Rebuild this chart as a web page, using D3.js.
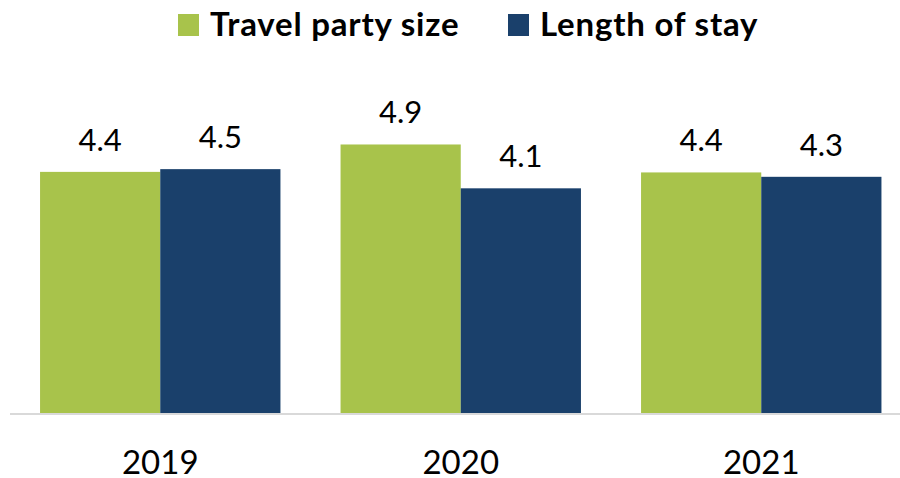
<!DOCTYPE html>
<html>
<head>
<meta charset="utf-8">
<script src="https://cdn.jsdelivr.net/npm/d3@7"></script>
<style>
  body { margin: 0; background: #fff; }
  svg { display: block; font-family: Lato, "Open Sans", sans-serif; }
</style>
</head>
<body>
<div id="chart"></div>
<script>
var years = ["2019", "2020", "2021"];
var series = ["Travel party size", "Length of stay"];
var partySize = [4.40, 4.90, 4.39];
var stayLength = [4.45, 4.10, 4.31];
var partyLabels = ["4.4", "4.9", "4.4"];
var stayLabels = ["4.5", "4.1", "4.3"];
var colors = ["#a8c34b", "#1a406b"];

var width = 900, height = 478;

var svg = d3.select("#chart").append("svg")
	.attr("width", width)
	.attr("height", height);

var x0 = d3.scaleBand()
	.domain(years)
	.range([10, 911.5])
	.paddingInner(0.2)
	.paddingOuter(0.1);

var x1 = d3.scaleBand()
	.domain(series)
	.range([0, x0.bandwidth()]);

var y = d3.scaleLinear()
	.domain([0, 5])
	.range([413, 139]);

var rows = [];
years.forEach(function(yr, i) {
	rows.push({ year: yr, key: series[0], value: partySize[i], label: partyLabels[i], color: colors[0] });
	rows.push({ year: yr, key: series[1], value: stayLength[i], label: stayLabels[i], color: colors[1] });
});

// bars
svg.append("g").selectAll("rect")
	.data(rows)
	.enter().append("rect")
	.attr("x", function(d) { return x0(d.year) + x1(d.key); })
	.attr("y", function(d) { return y(d.value); })
	.attr("width", x1.bandwidth())
	.attr("height", function(d) { return y(0) - y(d.value); })
	.attr("fill", function(d) { return d.color; });

// value labels
svg.append("g").selectAll("text")
	.data(rows)
	.enter().append("text")
	.attr("x", function(d) { return x0(d.year) + x1(d.key) + x1.bandwidth() / 2; })
	.attr("y", function(d) { return y(d.value) - 21; })
	.attr("text-anchor", "middle")
	.attr("font-size", "31px")
	.attr("fill", "#000")
	.text(function(d) { return d.label; });

// baseline
svg.append("line")
	.attr("x1", 10)
	.attr("x2", 900)
	.attr("y1", y(0) + 1)
	.attr("y2", y(0) + 1)
	.attr("stroke", "#d9d9d9")
	.attr("stroke-width", 2);

// x axis
var xAxis = d3.axisBottom(x0).tickSize(0).tickPadding(0);
var gx = svg.append("g")
	.attr("transform", "translate(0," + y(0) + ")")
	.call(xAxis);
gx.select(".domain").remove();
gx.selectAll("text")
	.attr("y", 0)
	.attr("dy", "61px")
	.attr("font-family", "Lato, sans-serif")
	.attr("font-size", "33px")
	.attr("fill", "#000");

// legend
var legend = svg.append("g");
var legendX = [178, 508];
series.forEach(function(name, i) {
	legend.append("rect")
		.attr("x", legendX[i])
		.attr("y", 14)
		.attr("width", 21)
		.attr("height", 22)
		.attr("fill", colors[i]);
	legend.append("text")
		.attr("x", legendX[i] + 32)
		.attr("y", 36)
		.attr("font-size", "33px")
		.attr("font-weight", "bold")
		.attr("letter-spacing", "0.8px")
		.attr("fill", "#000")
		.text(name);
});
</script>
</body>
</html>
